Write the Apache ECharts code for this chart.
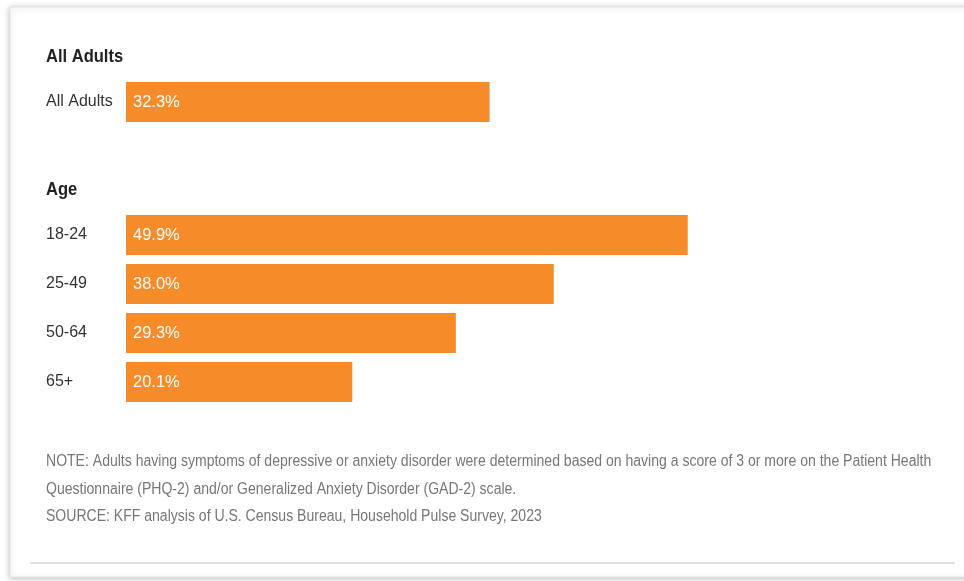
<!DOCTYPE html>
<html><head><meta charset="utf-8">
<script src="https://cdn.jsdelivr.net/npm/echarts@6/dist/echarts.min.js"></script>
<style>html,body{margin:0;padding:0;background:#fff}#c{width:964px;height:581px}</style>
</head><body><div id="c"></div>
<script>
const allCategories = ['All Adults'];
const allValues = [32.3];
const ageCategories = ['18-24', '25-49', '50-64', '65+'];
const ageValues = [49.9, 38.0, 29.3, 20.1];
const sectionTitles = ['All Adults', 'Age'];
const noteLines = [
  'NOTE: Adults having symptoms of depressive or anxiety disorder were determined based on having a score of 3 or more on the Patient Health',
  'Questionnaire (PHQ-2) and/or Generalized Anxiety Disorder (GAD-2) scale.',
  'SOURCE: KFF analysis of U.S. Census Bureau, Household Pulse Survey, 2023'
];

const FONT = '"Liberation Sans", Arial, sans-serif';
const ORANGE = '#F68B29';
const chart = echarts.init(document.getElementById('c'));

function yAxis(idx, cats) {
  return {
    type: 'category', gridIndex: idx, data: cats, inverse: true,
    axisLine: {show: false}, axisTick: {show: false}, splitLine: {show: false},
    axisLabel: {align: 'left', margin: 80, color: '#333', fontSize: 16, fontFamily: FONT}
  };
}
function xAxis(idx) {
  return {type: 'value', gridIndex: idx, min: 0, max: 70, show: false};
}
function bar(idx, vals) {
  return {
    type: 'bar', xAxisIndex: idx, yAxisIndex: idx, data: vals, barWidth: 40,
    itemStyle: {color: ORANGE}, silent: true,
    label: {show: true, position: 'insideLeft', distance: 7, color: '#fff', fontSize: 16.5, fontFamily: FONT,
      formatter: p => p.value.toFixed(1) + '%'}
  };
}
function txt(s, top, font, fill, sx) {
  return {type: 'text', left: 46, top: top, scaleX: sx, silent: true, style: {text: s, font: font, fill: fill}};
}

chart.setOption({
  backgroundColor: '#fff',
  animation: false,
  grid: [
    {left: 126, top: 77.5, width: 788, height: 49},
    {left: 126, top: 210.5, width: 788, height: 196}
  ],
  xAxis: [xAxis(0), xAxis(1)],
  yAxis: [yAxis(0, allCategories), yAxis(1, ageCategories)],
  series: [bar(0, allValues), bar(1, ageValues)],
  graphic: [
    {type: 'rect', z: -10, silent: true, shape: {x: 10, y: 7, width: 970, height: 570},
      style: {fill: '#fff', stroke: '#e4e4e4', lineWidth: 1, shadowBlur: 6, shadowColor: 'rgba(0,0,0,0.25)', shadowOffsetX: 0, shadowOffsetY: 1}},
    {type: 'line', silent: true, shape: {x1: 30, y1: 563, x2: 955, y2: 563}, style: {stroke: '#d6d6d6', lineWidth: 1.5}},
    txt(sectionTitles[0], 47, 'bold 19px ' + FONT, '#222', 0.87),
    txt(sectionTitles[1], 180, 'bold 19px ' + FONT, '#222', 0.87),
    txt(noteLines[0], 453.5, '16px ' + FONT, '#777', 0.877),
    txt(noteLines[1], 481.5, '16px ' + FONT, '#777', 0.877),
    txt(noteLines[2], 508.5, '16px ' + FONT, '#777', 0.877)
  ]
});
</script></body></html>
